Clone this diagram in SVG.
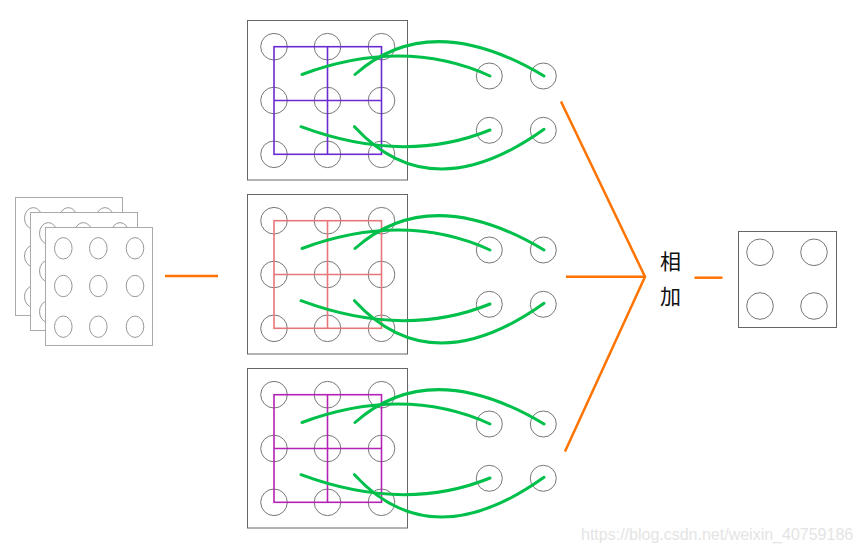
<svg xmlns="http://www.w3.org/2000/svg" width="861" height="551" viewBox="0 0 861 551">
<style>
.box{fill:#fff;stroke:#666;stroke-width:1}
.lbox{fill:#fff;stroke:#aaa;stroke-width:1}
.c{fill:none;stroke:#777;stroke-width:1}
.lc{fill:none;stroke:#999;stroke-width:1}
.g{fill:none;stroke-width:1.6}
.gr{fill:none;stroke:#00c04b;stroke-width:3;stroke-linecap:round}
.or{fill:none;stroke:#ff7300;stroke-width:2.5}
.t{font-family:"Noto Sans CJK SC","Noto Sans CJK JP",sans-serif;font-size:21px;fill:#111}
.wm{font-family:"Liberation Sans",Arial,sans-serif;font-size:16px;fill:#e4e4e4}
</style>
<defs>
<g id="block">
<rect class="box" x="247.5" y="20.5" width="160" height="159.5"/>
<circle class="c" cx="274" cy="46.7" r="13.3"/><circle class="c" cx="327.5" cy="46.7" r="13.3"/><circle class="c" cx="381.5" cy="46.7" r="13.3"/>
<circle class="c" cx="274" cy="100.5" r="13.3"/><circle class="c" cx="327.5" cy="100.5" r="13.3"/><circle class="c" cx="381.5" cy="100.5" r="13.3"/>
<circle class="c" cx="274" cy="154.3" r="13.3"/><circle class="c" cx="327.5" cy="154.3" r="13.3"/><circle class="c" cx="381.5" cy="154.3" r="13.3"/>
<circle class="c" cx="489.3" cy="76" r="13"/><circle class="c" cx="543.3" cy="76" r="13"/>
<circle class="c" cx="489.3" cy="130.3" r="13"/><circle class="c" cx="543.3" cy="130.3" r="13"/>
</g>
<g id="greens">
<path class="gr" d="M302 74.5 Q404 37 490 76"/>
<path class="gr" d="M355 74.5 Q430 8 544 76"/>
<path class="gr" d="M301 126.7 Q404 165 490 130"/>
<path class="gr" d="M354.5 126.7 Q431 210 544 129.3"/>
</g>
</defs>

<g id="input-stack">
<rect class="lbox" x="15.5" y="197.5" width="107" height="118"/>
<ellipse class="lc" cx="33.3" cy="218.3" rx="8.8" ry="10.7"/><ellipse class="lc" cx="68.3" cy="218.3" rx="8.8" ry="10.7"/><ellipse class="lc" cx="105" cy="218.3" rx="8.8" ry="10.7"/>
<ellipse class="lc" cx="33.3" cy="256" rx="8.8" ry="10.7"/><ellipse class="lc" cx="33.3" cy="296.7" rx="8.8" ry="10.7"/>
<rect class="lbox" x="30.5" y="212.5" width="107" height="118"/>
<ellipse class="lc" cx="48.3" cy="233.3" rx="8.8" ry="10.7"/><ellipse class="lc" cx="83.3" cy="233.3" rx="8.8" ry="10.7"/><ellipse class="lc" cx="120" cy="233.3" rx="8.8" ry="10.7"/>
<ellipse class="lc" cx="48.3" cy="271" rx="8.8" ry="10.7"/><ellipse class="lc" cx="48.3" cy="311.7" rx="8.8" ry="10.7"/>
<rect class="lbox" x="45.5" y="227.5" width="107" height="118"/>
<ellipse class="lc" cx="63.3" cy="248.3" rx="8.8" ry="10.7"/><ellipse class="lc" cx="98.3" cy="248.3" rx="8.8" ry="10.7"/><ellipse class="lc" cx="135" cy="248.3" rx="8.8" ry="10.7"/>
<ellipse class="lc" cx="63.3" cy="286" rx="8.8" ry="10.7"/><ellipse class="lc" cx="98.3" cy="286" rx="8.8" ry="10.7"/><ellipse class="lc" cx="135" cy="286" rx="8.8" ry="10.7"/>
<ellipse class="lc" cx="63.3" cy="326.7" rx="8.8" ry="10.7"/><ellipse class="lc" cx="98.3" cy="326.7" rx="8.8" ry="10.7"/><ellipse class="lc" cx="135" cy="326.7" rx="8.8" ry="10.7"/>
</g>

<g id="block-top">
<use href="#block"/>
<g class="g" stroke="#6a2bd3"><rect x="274" y="46.7" width="107.5" height="107.6"/><line x1="327.5" y1="46.7" x2="327.5" y2="154.3"/><line x1="274" y1="100.5" x2="381.5" y2="100.5"/></g>
</g>
<g id="block-mid" transform="translate(0,174)">
<use href="#block"/>
<g class="g" stroke="#e8777b"><rect x="274" y="46.7" width="107.5" height="107.6"/><line x1="327.5" y1="46.7" x2="327.5" y2="154.3"/><line x1="274" y1="100.5" x2="381.5" y2="100.5"/></g>
</g>
<g id="block-bot" transform="translate(0,348)">
<use href="#block"/>
<g class="g" stroke="#b423b4"><rect x="274" y="46.7" width="107.5" height="107.6"/><line x1="327.5" y1="46.7" x2="327.5" y2="154.3"/><line x1="274" y1="100.5" x2="381.5" y2="100.5"/></g>
</g>

<g id="output">
<rect class="box" x="738.5" y="231.5" width="98" height="96"/>
<circle class="c" cx="760" cy="252.3" r="13.3"/><circle class="c" cx="814" cy="252.3" r="13.3"/>
<circle class="c" cx="760" cy="306" r="13.3"/><circle class="c" cx="814" cy="306" r="13.3"/>
</g>

<g id="label"><text class="t" x="660" y="269">相</text><text class="t" x="660" y="304">加</text></g>

<g id="connectors">
<use href="#greens"/>
<use href="#greens" transform="translate(0,174)"/>
<use href="#greens" transform="translate(0,348)"/>
<line class="or" x1="165" y1="276" x2="218" y2="276"/>
<polyline class="or" points="561,101.5 645,276.7 565,451.5"/>
<line class="or" x1="566" y1="276.7" x2="645" y2="276.7"/>
<line class="or" x1="694.5" y1="277.7" x2="722.5" y2="277.7"/>
</g>

<text class="wm" x="581" y="540">https://blog.csdn.net/weixin_40759186</text>
</svg>
